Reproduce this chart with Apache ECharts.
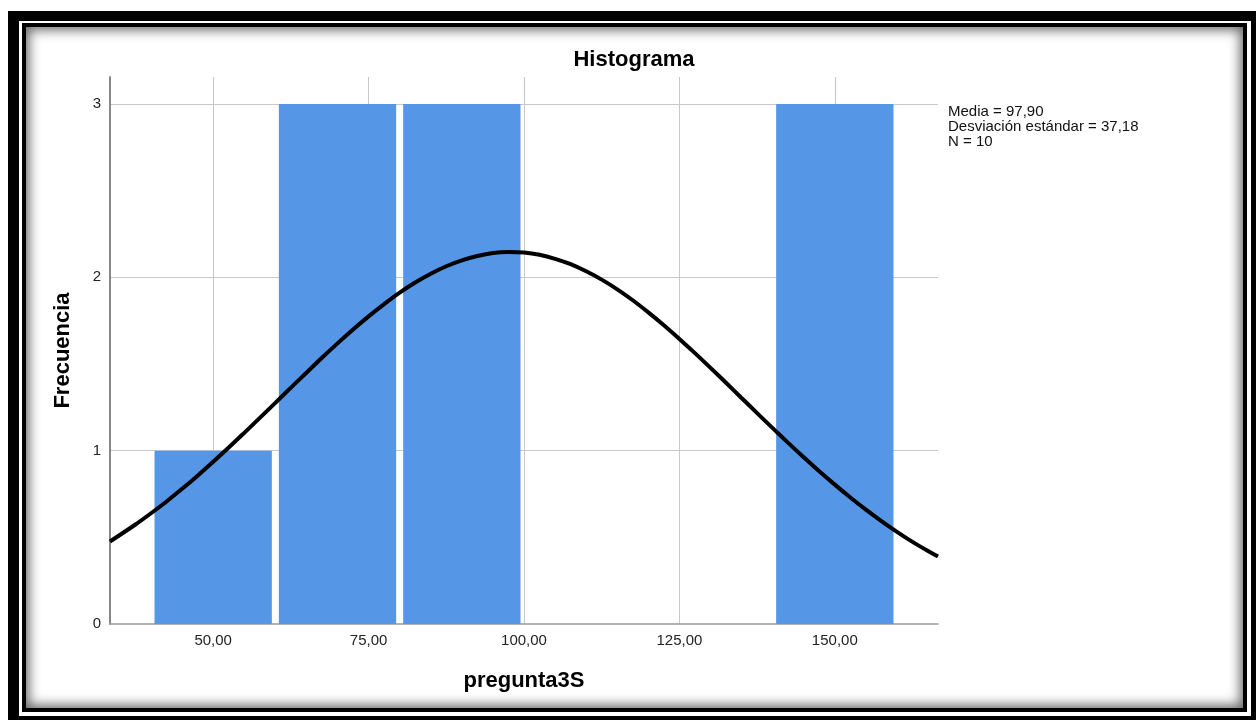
<!DOCTYPE html>
<html>
<head>
<meta charset="utf-8">
<script src="https://cdn.jsdelivr.net/npm/echarts@6/dist/echarts.min.js"></script>
<style>
  html, body { margin: 0; padding: 0; background: #fff; }
  #main { position: absolute; left: 0; top: 0; width: 1256px; height: 720px; }
  .outer {
    position: absolute; left: 8px; top: 11px; width: 1248px; height: 709px;
    box-sizing: border-box; border-style: solid; border-color: #000;
    border-width: 10px 5px 4px 11px; pointer-events: none;
  }
  .inner {
    position: absolute; left: 22px; top: 23px; width: 1225px; height: 689px;
    box-sizing: border-box; border: 4px solid #000; pointer-events: none;
    box-shadow: inset 0 0 12px 3px rgba(0, 0, 0, 0.6);
  }
</style>
</head>
<body>
<div id="main"></div>
<div class="outer"></div>
<div class="inner"></div>
<script>
// bins of the histogram
var binStart = [40, 60, 80, 100, 120, 140];
var binEnd = [60, 80, 100, 120, 140, 160];
var counts = [1, 3, 3, 0, 0, 3];

// normal curve
var curveX = [33.4, 37.5, 40, 42.5, 45, 47.5, 50, 52.5, 55, 57.5, 60, 62.5, 65, 67.5, 70, 72.5, 75, 77.5, 80, 82.5,
  85, 87.5, 90, 92.5, 95, 97.5, 100, 102.5, 105, 107.5, 110, 112.5, 115, 117.5, 120, 122.5, 125, 127.5,
  130, 132.5, 135, 137.5, 140, 142.5, 145, 147.5, 150, 152.5, 155, 157.5, 160, 162.5, 165, 166.6];
var curveY = [0.476, 0.574, 0.639, 0.707, 0.780, 0.856, 0.936, 1.018, 1.103, 1.189, 1.276, 1.364, 1.450, 1.536, 1.619, 1.699, 1.775, 1.846, 1.912, 1.970,
  2.021, 2.064, 2.098, 2.123, 2.140, 2.146, 2.143, 2.130, 2.107, 2.076, 2.035, 1.987, 1.931, 1.868, 1.798, 1.724, 1.645, 1.563,
  1.478, 1.392, 1.304, 1.217, 1.130, 1.045, 0.962, 0.881, 0.804, 0.730, 0.660, 0.594, 0.532, 0.474, 0.421, 0.389];

var xTicks = [50, 75, 100, 125, 150];
var yTicks = [0, 1, 2, 3];
var statsLines = ["Media = 97,90", "Desviación estándar = 37,18", "N = 10"];

var font = "Liberation Sans";

var barData = [];
for (var i = 0; i < counts.length; i++) {
  if (counts[i] > 0) barData.push([binStart[i], binEnd[i], counts[i]]);
}
var lineData = [];
for (var j = 0; j < curveX.length; j++) {
  lineData.push([curveX[j], curveY[j]]);
}

var gridLines = [];
xTicks.forEach(function (v) { gridLines.push({ xAxis: v }); });
yTicks.forEach(function (v) { if (v > 0) gridLines.push({ yAxis: v }); });

var myChart = echarts.init(document.getElementById("main"));
var option = {
  animation: false,
  backgroundColor: "#fff",
  grid: { left: 110, top: 77, width: 828, height: 547 },
  graphic: [
    {
      type: "text", x: 634, y: 60,
      style: { text: "Histograma", font: "bold 22px " + font, fill: "#000", align: "center", verticalAlign: "middle" }
    },
    {
      type: "text", x: 948, y: 104,
      style: { text: statsLines.join("\n"), font: "15px " + font, fill: "#111", lineHeight: 15 }
    }
  ],
  xAxis: {
    type: "value",
    min: 33.4,
    max: 166.6,
    name: "pregunta3S",
    nameLocation: "middle",
    nameGap: 46,
    nameTextStyle: { fontFamily: font, fontWeight: "bold", fontSize: 22, color: "#000" },
    axisLine: { show: true, onZero: false, lineStyle: { color: "#999", width: 1.5 } },
    axisTick: { show: false },
    splitLine: { show: false },
    axisLabel: {
      customValues: xTicks,
      margin: 9,
      fontFamily: font,
      fontSize: 15,
      color: "#222",
      formatter: function (v) { return v.toFixed(2).replace(".", ","); }
    }
  },
  yAxis: {
    type: "value",
    min: 0,
    max: 3.156,
    name: "Frecuencia",
    nameLocation: "middle",
    nameGap: 36,
    nameTextStyle: { fontFamily: font, fontWeight: "bold", fontSize: 22, color: "#000" },
    axisLine: { show: true, onZero: false, lineStyle: { color: "#888", width: 2 } },
    axisTick: { show: false },
    splitLine: { show: false },
    axisLabel: {
      customValues: yTicks,
      margin: 9,
      fontFamily: font,
      fontSize: 15,
      color: "#222"
    }
  },
  series: [
    {
      // grid lines, kept under the bars
      type: "line",
      data: [],
      z: 0,
      silent: true,
      markLine: {
        z: 0,
        silent: true,
        symbol: "none",
        label: { show: false },
        lineStyle: { color: "#c8c8c8", width: 1, type: "solid" },
        data: gridLines
      }
    },
    {
      type: "custom",
      z: 2,
      data: barData,
      renderItem: function (params, api) {
        var p0 = api.coord([api.value(0), api.value(2)]);
        var p1 = api.coord([api.value(1), 0]);
        return {
          type: "rect",
          shape: { x: p0[0] + 3.5, y: p0[1], width: p1[0] - p0[0] - 7, height: p1[1] - p0[1] },
          style: { fill: "#5596e6" }
        };
      }
    },
    {
      type: "line",
      z: 3,
      data: lineData,
      smooth: 0.3,
      showSymbol: false,
      clip: true,
      lineStyle: { color: "#000", width: 4 }
    }
  ]
};
option && myChart.setOption(option);
</script>
</body>
</html>
